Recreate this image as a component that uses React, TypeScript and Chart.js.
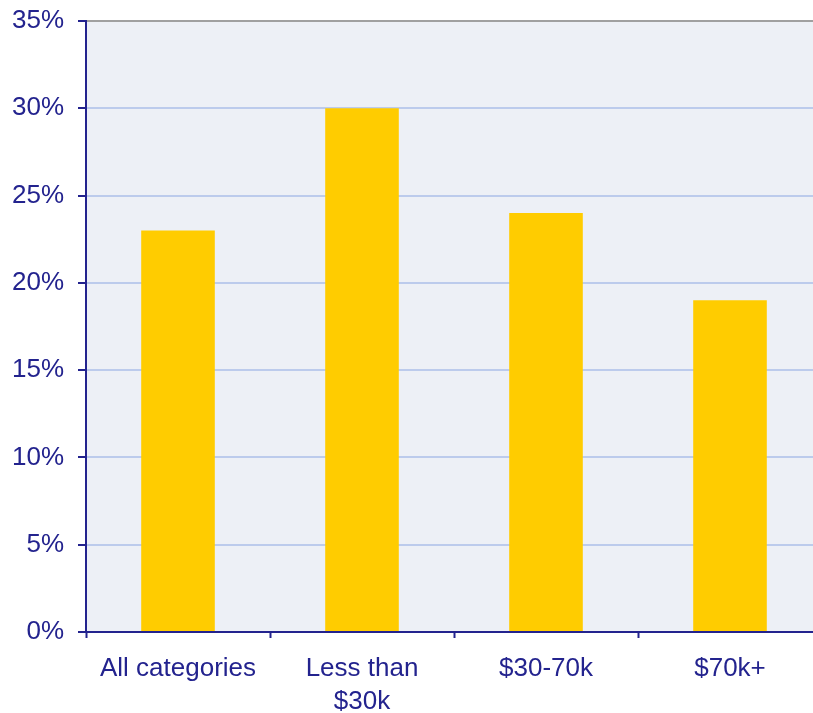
import React, { useEffect, useRef } from "react";
import { Chart, registerables } from "chart.js";

Chart.register(...registerables);

const categories: (string | string[])[] = ["All categories", ["Less than", "$30k"], "$30-70k", "$70k+"];
const values: number[] = [23, 30, 24, 19];
const yTicks: number[] = [0, 5, 10, 15, 20, 25, 30, 35];

const NAVY = "#23238E";

const bgPlugin = {
  id: "plotBg",
  beforeDraw(chart: any) {
    const { ctx, chartArea } = chart;
    ctx.save();
    ctx.fillStyle = "#EDF0F6";
    ctx.fillRect(chartArea.left, chartArea.top, chartArea.right - chartArea.left, chartArea.bottom - chartArea.top);
    ctx.restore();
  },
};

export default function App() {
  const ref = useRef<HTMLCanvasElement | null>(null);
  useEffect(() => {
    if (!ref.current) return;
    const chart = new Chart(ref.current, {
      type: "bar",
      data: {
        labels: categories as any,
        datasets: [
          {
            data: values,
            backgroundColor: "#FFCC00",
            borderWidth: 0,
            barPercentage: 0.8,
            categoryPercentage: 0.5,
          },
        ],
      },
      plugins: [bgPlugin],
      options: {
        animation: false,
        responsive: false,
        maintainAspectRatio: false,
        layout: { padding: { top: 21, right: 0, left: 0, bottom: 0 } },
        plugins: { legend: { display: false }, tooltip: { enabled: false } },
        scales: {
          x: {
            offset: true,
            grid: {
              offset: true,
              drawOnChartArea: false,
              drawTicks: true,
              tickLength: 6,
              tickColor: NAVY,
              tickWidth: 2,
            },
            border: { color: NAVY, width: 2 },
            ticks: {
              color: NAVY,
              padding: 15,
              maxRotation: 0,
              autoSkip: false,
              font: { family: "'Liberation Sans', Arial, sans-serif", size: 26, lineHeight: 1.25 },
            },
            afterFit(scale: any) {
              scale.height = 81;
              scale.paddingLeft = 0;
              scale.paddingRight = 0;
            },
          },
          y: {
            min: 0,
            max: 35,
            afterBuildTicks(scale: any) {
              scale.ticks = yTicks.map((v) => ({ value: v }));
            },
            grid: {
              color: (ctx: any) => (ctx.tick && ctx.tick.value === 35 ? "#A0A0A0" : "#BCCBEC"),
              lineWidth: 2,
              tickLength: 8,
              tickColor: NAVY,
              tickWidth: 2,
            },
            border: { color: NAVY, width: 2 },
            ticks: {
              color: NAVY,
              padding: 14,
              font: { family: "'Liberation Sans', Arial, sans-serif", size: 26 },
              callback: (v: any) => v + "%",
            },
            afterFit(scale: any) {
              scale.width = 86;
              scale.paddingTop = 0;
              scale.paddingBottom = 0;
            },
          },
        },
      },
    });
    return () => chart.destroy();
  }, []);
  return (
    <div style={{ position: "fixed", left: 0, top: 0, width: 813, height: 713, overflow: "hidden", background: "#fff" }}>
      <canvas ref={ref} width={822} height={713} style={{ display: "block", width: 822, height: 713 }} />
    </div>
  );
}
